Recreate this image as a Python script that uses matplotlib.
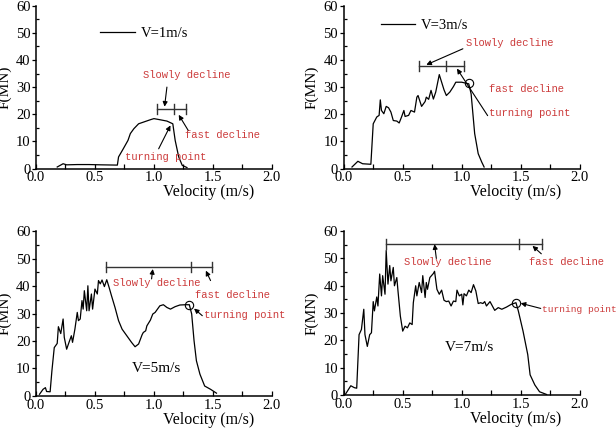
import numpy as np
import matplotlib.pyplot as plt
from matplotlib.ticker import MultipleLocator

plt.rcParams['font.family'] = ['Liberation Serif', 'DejaVu Serif']

# V = 1 m/s
v1_x = [0.18, 0.23, 0.26, 0.35, 0.45, 0.55, 0.69, 0.70, 0.74, 0.78, 0.80, 0.83, 0.87, 0.91,
        0.97, 1.00, 1.05, 1.11, 1.16, 1.18, 1.21, 1.24, 1.28]
v1_f = [0.6, 1.8, 1.4, 1.5, 1.5, 1.4, 1.3, 4.3, 7.3, 10.4, 12.9, 14.7, 16.5, 17.1,
        18.0, 18.4, 18.0, 17.5, 16.5, 10.4, 4.3, 1.2, 0.4]

# V = 3 m/s
v3_x = [0.07, 0.12, 0.16, 0.23, 0.25, 0.28, 0.30, 0.31, 0.32, 0.34, 0.36, 0.38, 0.40, 0.42,
        0.45, 0.47, 0.49, 0.51, 0.52, 0.55, 0.57, 0.60, 0.62, 0.63, 0.66, 0.69, 0.70, 0.72,
        0.74, 0.76, 0.78, 0.81, 0.83, 0.85, 0.87, 0.90, 0.93, 0.95, 1.00, 1.03, 1.06, 1.08,
        1.11, 1.14, 1.17, 1.19]
v3_f = [0.6, 2.7, 1.8, 1.6, 16.5, 19.0, 19.6, 25.3, 21.4, 20.2, 22.9, 22.4, 20.8, 17.7,
        17.5, 16.8, 19.0, 21.4, 19.2, 19.6, 21.4, 20.8, 26.3, 26.9, 22.9, 24.7, 26.3, 25.5,
        28.8, 25.6, 28.2, 34.6, 31.8, 29.0, 26.9, 28.2, 30.2, 31.8, 31.8, 31.5, 31.2, 27.5,
        12.9, 5.5, 2.4, 0.6]

# V = 5 m/s
v5_x = [0.03, 0.06, 0.08, 0.09, 0.12, 0.135, 0.155, 0.18, 0.19, 0.21, 0.23, 0.24, 0.26, 0.28,
        0.30, 0.31, 0.33, 0.35, 0.36, 0.375, 0.39, 0.40, 0.41, 0.43, 0.44, 0.45, 0.47, 0.48,
        0.50, 0.52, 0.53, 0.545, 0.56, 0.58, 0.60, 0.62, 0.64, 0.67, 0.70, 0.73, 0.77, 0.81,
        0.84, 0.87, 0.90, 0.91, 0.93, 0.94, 0.97, 0.99, 1.01, 1.03, 1.05, 1.08, 1.11, 1.14,
        1.18, 1.22, 1.27, 1.30, 1.32, 1.34, 1.36, 1.39, 1.43, 1.48, 1.53]
v5_f = [0.6, 2.4, 3.0, 1.6, 1.5, 9.1, 17.6, 19.1, 25.2, 22.7, 28.0, 21.3, 17.0, 19.5,
        21.9, 19.5, 24.3, 30.4, 27.4, 28.0, 34.7, 31.6, 38.3, 31.0, 40.1, 31.0, 37.1, 31.6,
        38.9, 37.1, 42.0, 40.8, 42.2, 39.8, 42.3, 39.5, 36.5, 32.2, 27.4, 24.3, 21.9, 19.5,
        17.9, 18.9, 22.3, 23.1, 23.7, 25.5, 27.6, 29.8, 30.4, 31.6, 32.8, 33.2, 32.2, 31.6,
        32.5, 33.1, 33.2, 33.2, 29.8, 20.1, 12.8, 7.9, 3.6, 2.4, 1.0]

# V = 7 m/s
v7_x = [0.01, 0.06, 0.09, 0.11, 0.13, 0.15, 0.17, 0.18, 0.20, 0.22, 0.235, 0.25, 0.26, 0.28,
        0.29, 0.305, 0.32, 0.33, 0.35, 0.36, 0.375, 0.39, 0.40, 0.42, 0.43, 0.45, 0.46, 0.48,
        0.50, 0.52, 0.54, 0.56, 0.58, 0.59, 0.61, 0.62, 0.64, 0.66, 0.67, 0.69, 0.70, 0.71,
        0.73, 0.76, 0.77, 0.79, 0.81, 0.83, 0.85, 0.87, 0.89, 0.91, 0.93, 0.95, 0.96, 0.98,
        1.00, 1.01, 1.02, 1.04, 1.06, 1.08, 1.10, 1.12, 1.14, 1.16, 1.18, 1.195, 1.21, 1.24,
        1.26, 1.28, 1.31, 1.34, 1.38, 1.42, 1.46, 1.48, 1.52, 1.56, 1.58, 1.62, 1.66, 1.72]
v7_f = [0.0, 3.4, 2.7, 2.5, 22.1, 24.0, 31.4, 22.1, 17.8, 22.1, 22.8, 34.2, 30.8, 35.9,
        32.6, 44.3, 36.3, 43.7, 36.9, 52.9, 40.6, 47.4, 41.8, 46.7, 40.0, 43.0, 38.1, 28.9,
        23.4, 25.2, 24.6, 26.4, 25.8, 33.8, 40.0, 36.3, 41.2, 37.5, 43.7, 35.7, 41.2, 38.7,
        43.0, 44.5, 45.3, 38.7, 36.9, 38.4, 34.7, 34.2, 34.4, 32.6, 34.4, 34.2, 38.4, 36.3,
        36.9, 33.0, 37.1, 36.3, 38.4, 37.5, 40.4, 38.1, 33.5, 33.8, 33.5, 34.2, 32.6, 34.2,
        32.6, 31.0, 32.0, 31.4, 32.2, 33.2, 33.8, 30.8, 23.4, 14.8, 7.4, 3.7, 1.2, 0.2]

# turning points (velocity, force)
turn_points = [(1.16, 16.5), (1.06, 31.5), (1.30, 33.2), (1.46, 33.8)]
# phase brackets: start, split, end, level
phases = [(1.03, 1.17, 1.27, 21.8), (0.64, 0.87, 1.02, 37.7),
          (0.59, 1.31, 1.49, 46.8), (0.36, 1.49, 1.68, 55.4)]
speed_labels = ['V=1m/s', 'V=3m/s', 'V=5m/s', 'V=7m/s']

red = '#cc3b3b'
mono = ['Liberation Mono', 'DejaVu Sans Mono']

fig = plt.figure(figsize=(6.16, 4.28), dpi=100)
rects = [[0.0584, 0.606, 0.383, 0.381], [0.558, 0.606, 0.383, 0.381],
         [0.0584, 0.075, 0.383, 0.385], [0.558, 0.077, 0.383, 0.383]]
axes = [fig.add_axes(r) for r in rects]
series = [(v1_x, v1_f), (v3_x, v3_f), (v5_x, v5_f), (v7_x, v7_f)]

for i, ax in enumerate(axes):
    x, f = series[i]
    ax.plot(x, f, color='black', lw=0.9, label=speed_labels[i])
    tx, ty = turn_points[i]
    if i > 0:
        ax.plot([tx], [ty], 'o', mfc='none', mec='black', ms=6, mew=0.8)
    a, b, c, lev = phases[i]
    ax.plot([a, c], [lev, lev], color='#333333', lw=1.0)
    for p in (a, b, c):
        ax.plot([p, p], [lev - 1.8, lev + 1.8], color='#333333', lw=1.0)

    ax.set_xlim(0, 2.0)
    ax.set_ylim(0, 60)
    ax.xaxis.set_major_locator(MultipleLocator(0.5))
    ax.xaxis.set_minor_locator(MultipleLocator(0.25))
    ax.yaxis.set_major_locator(MultipleLocator(10))
    ax.yaxis.set_minor_locator(MultipleLocator(5))
    ax.xaxis.set_major_formatter(plt.FormatStrFormatter('%.1f'))
    ax.tick_params(axis='x', which='both', direction='in', length=3.5, width=0.9,
                   labelsize=10.5, pad=2)
    ax.tick_params(axis='y', which='major', direction='out', length=3, width=0.9,
                   labelsize=10.5, pad=1)
    ax.tick_params(axis='y', which='minor', direction='in', length=2.5, width=0.9)
    for s in ('top', 'right'):
        ax.spines[s].set_visible(False)
    for s in ('left', 'bottom'):
        ax.spines[s].set_linewidth(1.1)
    ax.set_xlabel('Velocity (m/s)', fontsize=11.5)
    ax.xaxis.set_label_coords(0.73, -0.095)
    ax.set_ylabel('F(MN)', fontsize=11)
    ax.yaxis.set_label_coords(-0.105, 0.5)

arrow = dict(arrowstyle='-|>', color='black', lw=0.8, mutation_scale=7, shrinkA=0, shrinkB=0)

def note(ax, txt, pos, size=7.6, ha='center'):
    ax.text(pos[0], pos[1], txt, color=red, fontsize=size, family=mono,
            ha=ha, va='center', clip_on=False)

def arr(ax, tail, tip):
    ax.annotate('', xy=tip, xytext=tail, arrowprops=arrow)

# panel 1
ax = axes[0]
ax.legend(loc='center left', bbox_to_anchor=(0.27, 0.83), frameon=False, fontsize=10.5,
          handlelength=2.4, handletextpad=0.4, borderpad=0, borderaxespad=0)
note(ax, 'Slowly decline', (1.28, 34.3))
note(ax, 'fast decline', (1.58, 12.5))
note(ax, 'turning point', (1.10, 4.3))
arr(ax, (1.11, 30.0), (1.09, 22.8))
arr(ax, (1.29, 14.1), (1.21, 19.8))
arr(ax, (1.04, 7.3), (1.14, 15.9))

# panel 2
ax = axes[1]
ax.legend(loc='center left', bbox_to_anchor=(0.16, 0.877), frameon=False, fontsize=10.5,
          handlelength=2.3, handletextpad=0.4, borderpad=0, borderaxespad=0)
note(ax, 'Slowly decline', (1.41, 46.1))
note(ax, 'fast decline', (1.55, 29.4))
note(ax, 'turning point', (1.58, 20.4))
arr(ax, (1.01, 44.1), (0.70, 38.2))
arr(ax, (1.22, 19.5), (0.96, 36.8))

# panel 3
ax = axes[2]
ax.text(1.025, 10.1, speed_labels[2], fontsize=11, ha='center', va='center')
note(ax, 'Slowly decline', (1.02, 41.1))
note(ax, 'fast decline', (1.67, 36.7))
note(ax, 'turning point', (1.77, 29.6))
arr(ax, (0.98, 42.6), (0.99, 46.2))
arr(ax, (1.48, 42.0), (1.44, 45.6))
arr(ax, (1.41, 29.2), (1.34, 31.8))

# panel 4
ax = axes[3]
ax.text(1.07, 17.5, speed_labels[3], fontsize=11, ha='center', va='center')
note(ax, 'Slowly decline', (0.88, 48.8))
note(ax, 'fast decline', (1.89, 48.8))
note(ax, 'turning point', (1.68, 31.4), size=6.8, ha='left')
arr(ax, (0.785, 50.0), (0.77, 55.2))
arr(ax, (1.675, 51.7), (1.60, 54.6))
arr(ax, (1.67, 31.7), (1.50, 33.6))

fig.savefig('out.png', dpi=100)
